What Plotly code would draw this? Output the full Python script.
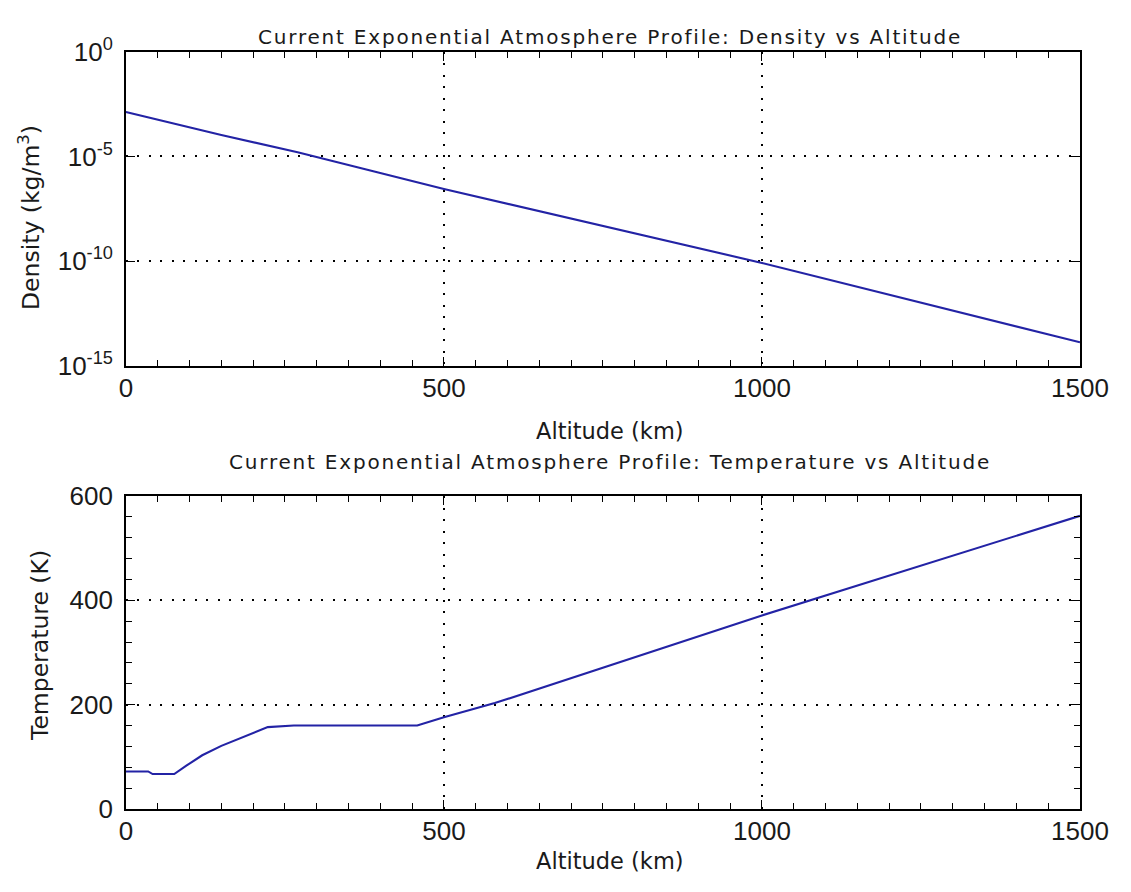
import plotly.graph_objects as go

# ---- data ----
dens_alt_km = [0, 150, 270, 500, 1000, 1500]
density_kgm3 = [1.32e-3, 1.05e-4, 1.6e-5, 2.8e-7, 8.3e-11, 1.35e-14]

temp_alt_km = [0, 35, 42, 76, 95, 120, 150, 187, 223, 264, 458, 500, 580, 1000, 1500]
temperature_K = [72, 72, 67, 67, 83, 103, 121, 140, 157, 160, 160, 176, 203, 371, 562]

x_ticks = [0, 500, 1000, 1500]
dens_tickvals = [1e0, 1e-5, 1e-10, 1e-15]
dens_ticktext = ["10<sup>0</sup>", "10<sup>-5</sup>", "10<sup>-10</sup>", "10<sup>-15</sup>"]
temp_ticks = [0, 200, 400, 600]

title_top = "Current Exponential Atmosphere Profile: Density vs Altitude"
title_bot = "Current Exponential Atmosphere Profile: Temperature vs Altitude"
xlabel = "Altitude (km)"
ylabel_top = "Density (kg/m<sup>3</sup>)"
ylabel_bot = "Temperature (K)"

# ---- figure ----
W, H = 1131, 892
# the captured page shows the figure slightly scaled and shifted; map target pixels back
SX, SY, OX, OY = 0.969, 0.963, 15.0, 27.0
FONT = "DejaVu Sans, sans-serif"
TICKFONT = "Liberation Sans, Arial, sans-serif"
TXT = "#1a1a1a"
LINE = "rgb(35,35,165)"


def mx(p):
    return (p - OX) / SX


def my(p):
    return (p - OY) / SY


def fx(p):
    return mx(p) / W


def fy(p):
    return 1 - my(p) / H


fig = go.Figure()
fig.add_trace(go.Scatter(x=dens_alt_km, y=density_kgm3, mode="lines",
                         line=dict(color=LINE, width=2.1), xaxis="x", yaxis="y",
                         showlegend=False))
fig.add_trace(go.Scatter(x=temp_alt_km, y=temperature_K, mode="lines",
                         line=dict(color=LINE, width=2.1), xaxis="x2", yaxis="y2",
                         showlegend=False))

# right edge kept so the "1500" label still fits inside the page
xdom = [fx(126), 1100 / W]
top_dom = [fy(367), fy(52.7)]
bot_dom = [fy(810), fy(497)]

common = dict(
    showline=True, linecolor="black", linewidth=1.6, mirror="allticks",
    ticks="inside", ticklen=9.5, tickcolor="black", tickwidth=1.3,
    showgrid=True, gridcolor="black", gridwidth=1.7, griddash="2px,9.5px",
    zeroline=False, tickfont=dict(family=TICKFONT, size=26, color=TXT),
)
minor_x = dict(ticks="inside", dtick=50, ticklen=6.3, tickcolor="black",
               tickwidth=1.3, showgrid=False)

fig.update_layout(
    width=W, height=H, margin=dict(l=0, r=0, t=0, b=0),
    paper_bgcolor="white", plot_bgcolor="white",
    xaxis=dict(domain=xdom, anchor="y", range=[0, 1500], tickvals=x_ticks,
               minor=minor_x, ticklabelstandoff=-2, **common),
    yaxis=dict(domain=top_dom, anchor="x", type="log", range=[-15, 0],
               tickvals=dens_tickvals, ticktext=dens_ticktext,
               ticklabelstandoff=6, **common),
    xaxis2=dict(domain=xdom, anchor="y2", range=[0, 1500], tickvals=x_ticks,
                minor=minor_x, ticklabelstandoff=-2, **common),
    yaxis2=dict(domain=bot_dom, anchor="x2", range=[0, 600], tickvals=temp_ticks,
                minor=dict(ticks="inside", dtick=40, ticklen=6.3, tickcolor="black",
                           tickwidth=1.3, showgrid=False),
                ticklabelstandoff=6, **common),
)


def ann(text, xp, yp, size, angle=0, ypx=None):
    yv = 1 - ypx / H if ypx is not None else fy(yp)
    fig.add_annotation(text=text, x=fx(xp), y=yv, xref="paper", yref="paper",
                       xanchor="center", yanchor="middle", showarrow=False, textangle=angle,
                       font=dict(family=FONT, size=size, color=TXT))


def spaced(t):
    return '<span style="letter-spacing:1.8px">' + t + "</span>"


cx = (126 + 1095) / 2
ann(spaced(title_top), cx, None, 20, ypx=11)
ann(spaced(title_bot), cx, 463, 20)
ann(xlabel, cx, 432, 22.5)
ann(xlabel, cx, 862, 22.5)
ann(ylabel_top, 29, 218, 23.5, -90)
ann(ylabel_bot, 40, 646, 23.5, -90)

fig.write_html("out.html")
